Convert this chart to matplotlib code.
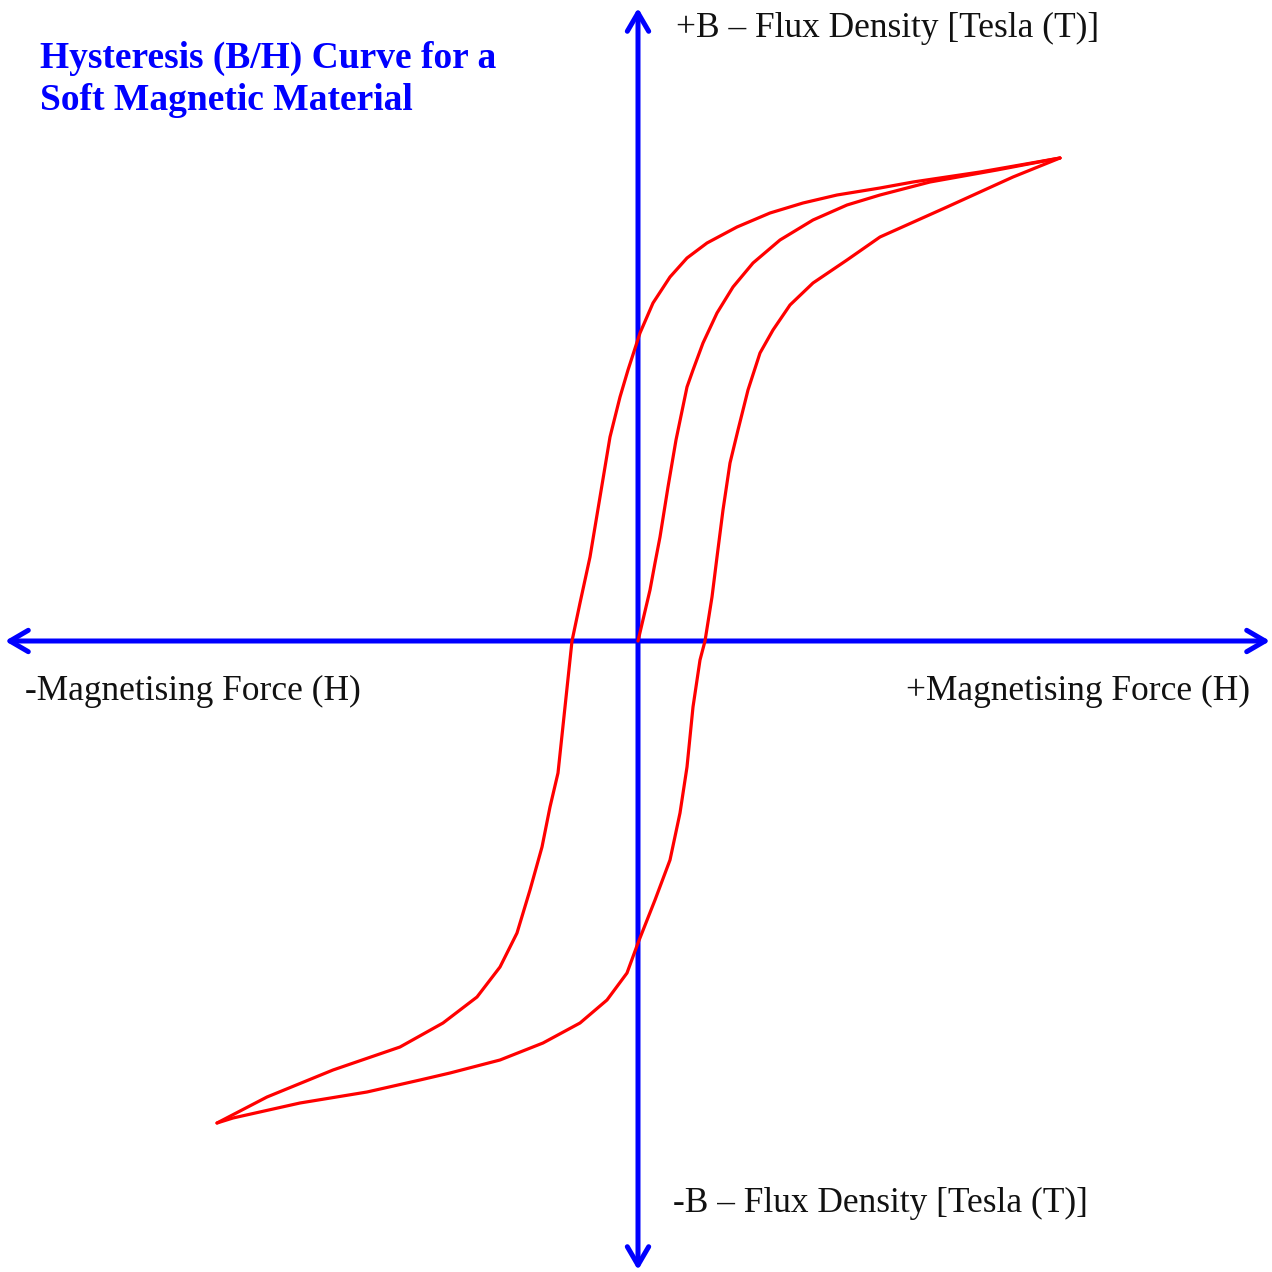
import matplotlib
matplotlib.use("Agg")
import matplotlib.pyplot as plt

# B/H hysteresis loop (arbitrary units)
init_H = [0.0, 0.12, 0.17, 0.22, 0.30, 0.38, 0.49, 0.55, 0.65, 0.79, 0.95, 1.15, 1.42, 1.75,
          2.09, 2.42, 2.92, 3.59, 4.22]
init_B = [0.0, 0.51, 0.78, 1.04, 1.54, 2.01, 2.54, 2.71, 2.98, 3.28, 3.54, 3.78, 4.01, 4.21,
          4.36, 4.46, 4.59, 4.71, 4.83]

down_H = [4.22, 3.42, 2.75, 2.42, 1.99, 1.65, 1.32, 0.99, 0.69, 0.49, 0.32, 0.15, 0.02, -0.10,
          -0.18, -0.28, -0.38, -0.48, -0.58, -0.66, -0.73, -0.80, -0.88, -0.96, -1.08, -1.21,
          -1.38, -1.61, -1.95, -2.38, -3.05, -3.71, -4.21]
down_B = [4.83, 4.69, 4.59, 4.53, 4.46, 4.38, 4.28, 4.14, 3.98, 3.83, 3.64, 3.38, 3.08, 2.71,
          2.44, 2.04, 1.44, 0.84, 0.38, 0.0, -0.66, -1.32, -1.66, -2.06, -2.49, -2.92,
          -3.26, -3.56, -3.82, -4.06, -4.29, -4.56, -4.82]

up_H = [-4.21, -4.05, -3.38, -2.71, -2.18, -1.88, -1.38, -0.95, -0.58, -0.31, -0.11, 0.0, 0.17,
        0.32, 0.42, 0.49, 0.55, 0.62, 0.67, 0.74, 0.79, 0.85, 0.92, 1.00, 1.10, 1.22, 1.35,
        1.52, 1.75, 2.09, 2.42, 3.09, 3.75, 4.22]
up_B = [-4.82, -4.77, -4.62, -4.51, -4.39, -4.32, -4.19, -4.02, -3.82, -3.59, -3.32, -3.02, -2.59,
        -2.19, -1.72, -1.26, -0.66, -0.19, 0.0, 0.44, 0.84, 1.31, 1.78, 2.11, 2.51, 2.88, 3.11,
        3.36, 3.58, 3.81, 4.04, 4.34, 4.64, 4.83]

title_lines = ["Hysteresis (B/H) Curve for a", "Soft Magnetic Material"]
label_pos_B = "+B \u2013 Flux Density [Tesla (T)]"
label_neg_B = "-B \u2013 Flux Density [Tesla (T)]"
label_neg_H = "-Magnetising Force (H)"
label_pos_H = "+Magnetising Force (H)"

plt.rcParams['font.family'] = ['Liberation Serif', 'DejaVu Serif']

fig = plt.figure(figsize=(12.72, 12.72), dpi=100)
ax = fig.add_axes([0, 0, 1, 1])
ax.set_xlim(-6.38, 6.34)
ax.set_ylim(-6.31, 6.41)
ax.axis('off')

# axes with arrow heads
arrow = dict(arrowstyle='<->,head_length=0.6,head_width=0.35', color='#0000ff',
             lw=3.6, mutation_scale=22, shrinkA=0, shrinkB=0)
ax.annotate('', xy=(6.32, 0), xytext=(-6.33, 0), arrowprops=arrow)
ax.annotate('', xy=(0, 6.33), xytext=(0, -6.29), arrowprops=arrow)

red = '#ff0000'
for hh, bb in [(init_H, init_B), (down_H, down_B), (up_H, up_B)]:
    ax.plot(hh, bb, color=red, lw=2.3, solid_joinstyle='round', solid_capstyle='round', zorder=3)

W = 1272.0
for line, base in zip(title_lines, [68, 110]):
    fig.text(40 / W, 1 - base / W, line, color='#0000ff', fontsize=27, fontweight='bold',
             ha='left', va='baseline')
txt = dict(color='#111111', fontsize=25.5, va='baseline')
fig.text(676 / W, 1 - 37 / W, label_pos_B, ha='left', **txt)
fig.text(673 / W, 1 - 1212 / W, label_neg_B, ha='left', **txt)
fig.text(25 / W, 1 - 700 / W, label_neg_H, ha='left', **txt)
fig.text(1250 / W, 1 - 700 / W, label_pos_H, ha='right', **txt)

fig.savefig('out.png', dpi=100)
